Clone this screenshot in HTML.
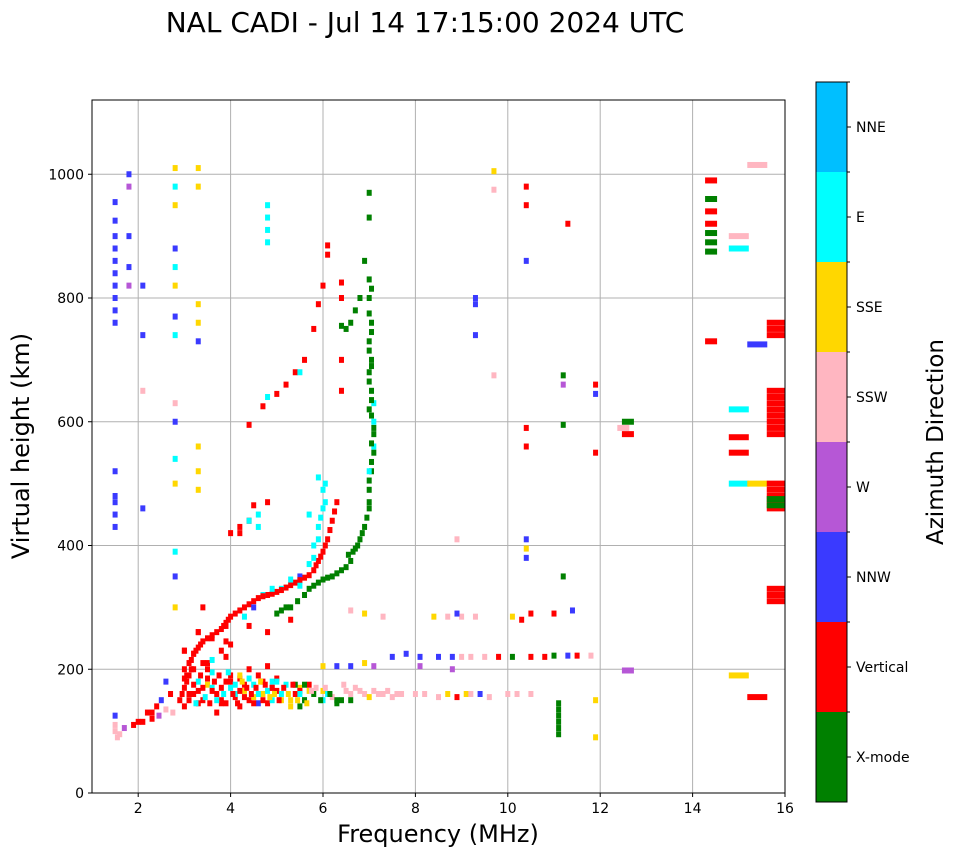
<!DOCTYPE html>
<html><head><meta charset="utf-8"><style>
body{margin:0;background:#fff;}
svg{display:block;font-family:"DejaVu Sans","Liberation Sans",sans-serif;}
</style></head><body>
<svg id="chart" width="958" height="857" viewBox="0 0 958 857">
<text x="425" y="32" font-size="28" text-anchor="middle">NAL CADI - Jul 14 17:15:00 2024 UTC</text>
<g id="grid"></g>
<g id="marks"></g>
<rect x="92" y="100" width="693" height="693" fill="none" stroke="#000" stroke-width="1"/>
<g id="ticks"></g>
<text x="438" y="842" font-size="24" text-anchor="middle">Frequency (MHz)</text>
<text transform="translate(29,446) rotate(-90)" font-size="24" text-anchor="middle">Virtual height (km)</text>
<g id="cbar"></g>
<text transform="translate(943,442) rotate(-90)" font-size="23" text-anchor="middle">Azimuth Direction</text>
</svg>
<script>
const categories=["X-mode","Vertical","NNW","W","SSW","SSE","E","NNE"];
const catColors=["#008000","#ff0000","#3a3aff","#b657d6","#ffb6c1","#ffd700","#00ffff","#00bfff"];
const xTicks=[2,4,6,8,10,12,14,16];
const yTicks=[0,200,400,600,800,1000];
const freqs=[
3.0,3.1,3.2,3.3,3.4,3.6,3.8,3.9,4.0,4.2,4.4,4.6,4.8,5.0,5.2,5.4,5.6,5.8,5.9,6.0,6.1,6.2,6.3,
4.7,5.1,5.8,5.9,6.0,6.0,5.9,5.7,4.5,5.5,
5.0,5.3,5.6,5.8,6.0,6.2,6.4,6.6,6.7,6.8,6.9,7.0,7.0,7.05,7.1,7.1,7.0,7.05,7.0,7.05,7.0,7.05,7.0,7.0,6.9,7.0,7.0,6.5,6.7,6.8,
7.1,7.1,7.1,7.0,
4.0,4.2,4.4,4.4,4.7,5.0,5.2,5.4,5.6,5.8,5.9,6.0,6.1,6.1,6.4,6.4,6.4,6.4,
4.8,4.8,4.8,4.8,4.6,4.8,5.5,4.8,
2.9,3.0,3.1,3.2,3.3,3.4,3.5,3.6,3.7,3.8,3.9,4.0,4.1,4.2,4.3,4.4,4.5,4.6,4.7,4.8,4.9,5.0,5.1,5.2,5.3,5.4,5.5,5.6,5.7,5.8,6.0,6.2,6.4,6.5,6.7,6.9,7.1,7.3,7.5,7.7,8.2,8.7,8.9,9.1,9.4,10.0,10.5,5.7,3.2,3.5,3.0,4.2,4.6,5.5,6.3,6.6,4.9,3.7,2.6,2.5,2.3,2.1,1.9,2.2,2.4,2.7,1.5,1.5,1.5,
3.0,3.1,3.3,3.5,3.6,3.8,4.0,4.1,4.3,4.5,4.7,4.9,5.1,5.3,5.5,3.2,3.4,3.9,4.4,5.0,5.6,6.1,3.0,3.6,4.2,4.8,5.4,6.0,3.3,3.9,
6.0,6.3,6.6,6.9,7.1,7.5,7.8,8.1,8.1,8.5,8.8,9.0,9.2,8.8,9.5,9.8,10.1,10.5,10.8,11.0,11.3,11.5,11.8,12.6,
8.4,8.7,9.0,9.3,8.9,6.6,6.9,7.3,10.1,10.5,11.0,11.4,10.3,
11.1,11.1,11.1,11.1,11.1,11.1,
1.5,1.5,1.5,1.5,1.5,1.5,1.5,1.5,1.5,1.5,1.5,1.5,1.5,1.5,1.5,1.8,1.8,1.8,1.8,1.8,
2.8,2.8,2.8,2.8,2.8,2.8,2.8,2.8,2.8,2.8,2.8,2.8,2.8,2.8,2.8,3.3,3.3,3.3,3.3,3.3,3.3,3.3,3.3,2.1,2.1,2.1,2.1,
14.4,14.4,14.4,14.4,14.4,14.4,14.4,14.4,15.0,15.0,15.4,15.4,15.0,15.0,15.0,15.4,15.0,15.0,15.4,12.5,12.6,12.6,11.9,11.9,11.9,11.2,11.2,11.2,11.9,11.9,11.3,10.4,10.4,10.4,10.4,10.4,10.4,10.4,10.4,11.2,9.3,9.3,9.3,9.7,9.7,9.7,8.9,
15.8,15.8,15.8,15.8,15.8,15.8,15.8,15.8,15.8,15.8,15.8,15.8,15.8,15.8,15.8,15.8,15.8,15.8,15.8,15.8,15.8,
3.05,3.15,3.25,3.35,3.5,3.7,3.85,3.95,4.1,4.3,4.5,4.7,4.9,5.1,5.3,5.5,5.7,5.85,5.95,6.05,6.15,6.25,
4.9,5.3,5.5,5.7,5.8,5.9,5.95,6.05,6.05,4.4,4.6,4.2,4.5,
5.1,5.2,5.45,5.7,5.9,6.1,6.3,6.5,6.55,6.65,6.75,6.85,6.95,7.0,7.0,7.05,7.05,7.1,7.05,7.05,7.0,7.05,7.0,7.05,7.0,7.05,6.6,6.4,
2.95,3.05,3.1,3.15,3.2,3.25,3.3,3.35,3.4,3.45,3.5,3.55,3.6,3.65,3.7,3.75,3.8,3.85,3.9,3.95,4.0,4.05,4.1,4.15,4.2,4.25,4.3,4.35,4.4,4.45,4.5,4.55,4.6,4.65,4.7,4.75,4.8,4.85,4.9,4.95,5.0,5.05,5.15,5.25,5.35,5.45,5.5,5.6,5.65,5.75,5.85,5.95,6.05,6.15,6.3,6.45,6.6,6.8,7.0,7.2,7.4,7.6,8.0,8.5,9.2,9.6,10.2,2.75,2.6,2.45,2.3,2.0,1.7,1.6,1.55,
3.0,3.3,3.6,3.8,4.0,3.9,4.4,4.3,4.8,5.3,3.4
];
const heights=[
200,210,225,235,245,255,265,275,285,295,305,315,320,325,332,340,348,360,375,390,410,440,470,
320,330,400,430,460,490,510,450,300,350,
290,300,320,335,345,350,360,375,395,410,430,460,490,520,550,580,620,650,680,700,730,760,800,830,860,930,970,750,780,800,
600,630,560,520,
420,430,440,595,625,645,660,680,700,750,790,820,870,885,700,650,800,825,
890,910,930,950,450,470,680,640,
150,170,190,160,180,150,175,195,160,145,180,170,155,185,165,150,175,190,160,145,180,165,150,175,140,160,170,150,165,160,165,155,150,165,170,160,165,160,155,160,160,160,155,160,160,160,160,175,200,210,140,140,145,140,145,150,150,130,180,150,120,115,110,130,140,160,100,110,125,
185,160,145,200,170,150,190,160,175,155,180,170,160,150,165,225,210,245,200,185,150,160,230,215,190,205,175,150,260,220,
205,205,205,210,205,220,225,220,205,220,220,220,220,200,220,220,220,220,220,222,222,222,222,198,
285,285,285,285,290,295,290,285,285,290,290,295,280,
95,105,115,125,135,145,
760,780,800,820,840,860,880,900,925,955,430,450,470,480,520,820,850,1000,980,900,
880,850,820,770,740,980,950,1010,630,600,540,500,390,350,300,1010,980,790,760,730,560,520,490,820,740,650,460,
990,940,920,960,905,890,875,730,900,880,1015,725,575,550,500,500,190,620,155,590,600,580,550,660,645,675,660,595,150,90,920,980,950,860,590,560,410,395,380,350,800,790,740,1005,975,675,410,
580,590,600,610,620,630,640,650,460,470,480,490,500,465,475,320,310,330,740,750,760,
190,215,230,240,250,260,270,280,290,300,310,318,322,328,336,344,352,368,382,400,425,455,
330,345,335,370,380,410,445,470,500,440,430,420,465,
295,300,310,330,340,348,355,365,385,390,400,420,445,470,505,535,565,590,610,635,665,690,715,745,775,815,760,755,
160,180,150,200,175,145,165,190,170,155,185,145,165,180,150,190,170,160,145,195,180,160,175,145,165,180,155,170,185,160,145,170,160,180,150,175,165,155,170,160,180,150,170,160,175,150,160,175,145,165,170,150,170,160,150,175,160,165,155,160,165,160,160,155,160,155,160,130,135,125,130,115,105,95,90,
230,260,250,230,240,270,270,285,260,280,300
];
const cats=[
1,1,1,1,1,1,1,1,1,1,1,1,1,1,1,1,1,1,1,1,1,1,1,
6,6,6,6,6,6,6,6,2,2,
0,0,0,0,0,0,0,0,0,0,0,0,0,0,0,0,0,0,0,0,0,0,0,0,0,0,0,0,0,0,
6,6,6,6,
1,1,1,1,1,1,1,1,1,1,1,1,1,1,1,1,1,1,
6,6,6,6,6,1,6,6,
1,1,1,1,6,1,5,6,1,1,1,6,1,1,5,1,6,1,5,1,6,1,5,6,5,1,5,6,5,0,5,4,0,4,4,4,4,4,4,4,4,5,1,5,2,4,4,1,1,1,1,1,2,0,0,0,6,1,2,2,1,1,1,1,1,1,4,4,2,
1,1,1,1,6,1,1,6,1,5,1,1,6,5,1,1,1,1,1,1,0,6,1,6,5,1,0,6,1,1,
5,2,2,5,3,2,2,2,3,2,2,4,4,3,4,1,0,1,1,0,2,1,4,3,
5,4,4,4,2,4,5,4,5,1,1,2,1,
0,0,0,0,0,0,
2,2,2,2,2,2,2,2,2,2,2,2,2,2,2,3,2,2,3,2,
2,6,5,2,6,6,5,5,4,2,6,5,6,2,5,5,5,5,5,2,5,5,5,2,2,4,2,
1,1,1,0,0,0,0,1,4,6,4,2,1,1,6,5,5,6,1,4,0,1,1,1,2,0,3,0,5,5,1,1,1,2,1,1,2,5,2,0,2,2,2,5,4,4,4,
1,1,1,1,1,1,1,1,1,1,1,1,1,0,0,1,1,1,1,1,1,
1,1,1,1,1,1,1,1,1,1,1,1,1,1,1,1,1,1,1,1,1,1,
6,6,6,6,6,6,6,6,6,6,6,1,1,
0,0,0,0,0,0,0,0,0,0,0,0,0,0,0,0,0,0,0,0,0,0,0,0,0,0,0,0,
1,1,1,1,1,6,1,1,1,6,1,1,1,1,6,1,1,6,1,6,1,1,6,1,1,5,1,1,6,1,1,1,6,5,1,1,6,5,1,5,6,1,1,5,1,5,6,0,5,4,4,0,4,0,0,4,4,4,5,4,4,4,4,4,4,4,4,4,4,3,1,1,3,4,4,
1,1,1,1,1,1,1,6,1,1,1
];
const NS="http://www.w3.org/2000/svg";
const X0=92,X1=785,Y0=793,Y1=100,FMIN=1,FMAX=16,HMIN=0,HMAX=1120;
function xs(f){return X0+(f-FMIN)/(FMAX-FMIN)*(X1-X0);}
function ys(h){return Y0-(h-HMIN)/(HMAX-HMIN)*(Y0-Y1);}
function binW(f){return f<12?5:(f<14.8?12:(f<15.6?20:18));}
function el(tag,attrs,parent){const e=document.createElementNS(NS,tag);for(const k in attrs)e.setAttribute(k,attrs[k]);parent.appendChild(e);return e;}
const grid=document.getElementById('grid'),ticks=document.getElementById('ticks'),marks=document.getElementById('marks'),cbar=document.getElementById('cbar');
xTicks.forEach(t=>{const x=xs(t);
 const g=el('line',{x1:x,x2:x,y1:Y1,y2:Y0,stroke:'#b0b0b0','stroke-width':1},grid);
 
 
 el('line',{x1:x,x2:x,y1:Y0,y2:Y0+4,stroke:'#000'},ticks);
 const tx=el('text',{x:x,y:Y0+20,'font-size':14,'text-anchor':'middle'},ticks);tx.textContent=t;
 
 
});
yTicks.forEach(t=>{const y=ys(t);
 const g=el('line',{x1:X0,x2:X1,y1:y,y2:y,stroke:'#b0b0b0','stroke-width':1},grid);
 
 
 el('line',{x1:X0-4,x2:X0,y1:y,y2:y,stroke:'#000'},ticks);
 const tx=el('text',{x:X0-8,y:y+5,'font-size':14,'text-anchor':'end'},ticks);tx.textContent=t;
 
 
});
for(let i=0;i<freqs.length;i++){
 const w=binW(freqs[i]);let x=xs(freqs[i])-w/2;let ww=w;if(x+ww>X1)ww=X1-x;
 const r=el('rect',{x:x,y:ys(heights[i])-3,width:ww,height:6,fill:catColors[cats[i]]},marks);
 
 
}
const CB_X=816,CB_W=31,CB_T=82,CB_B=802,segH=(CB_B-CB_T)/categories.length;
categories.forEach((c,i)=>{
 const y=CB_B-(i+1)*segH;
 const r=el('rect',{x:CB_X,y:y,width:CB_W,height:segH,fill:catColors[i]},cbar);
 
 
 el('line',{x1:CB_X+CB_W,x2:CB_X+CB_W+4,y1:y+segH/2,y2:y+segH/2,stroke:'#000'},cbar);
 el('line',{x1:CB_X+CB_W,x2:CB_X+CB_W+3,y1:y,y2:y,stroke:'#000'},cbar);
 const t=el('text',{x:CB_X+CB_W+9,y:y+segH/2+5,'font-size':14},cbar);t.textContent=c;
 
 
});
el('rect',{x:CB_X,y:CB_T,width:CB_W,height:CB_B-CB_T,fill:'none',stroke:'#000'},cbar);
</script>
</body></html>
